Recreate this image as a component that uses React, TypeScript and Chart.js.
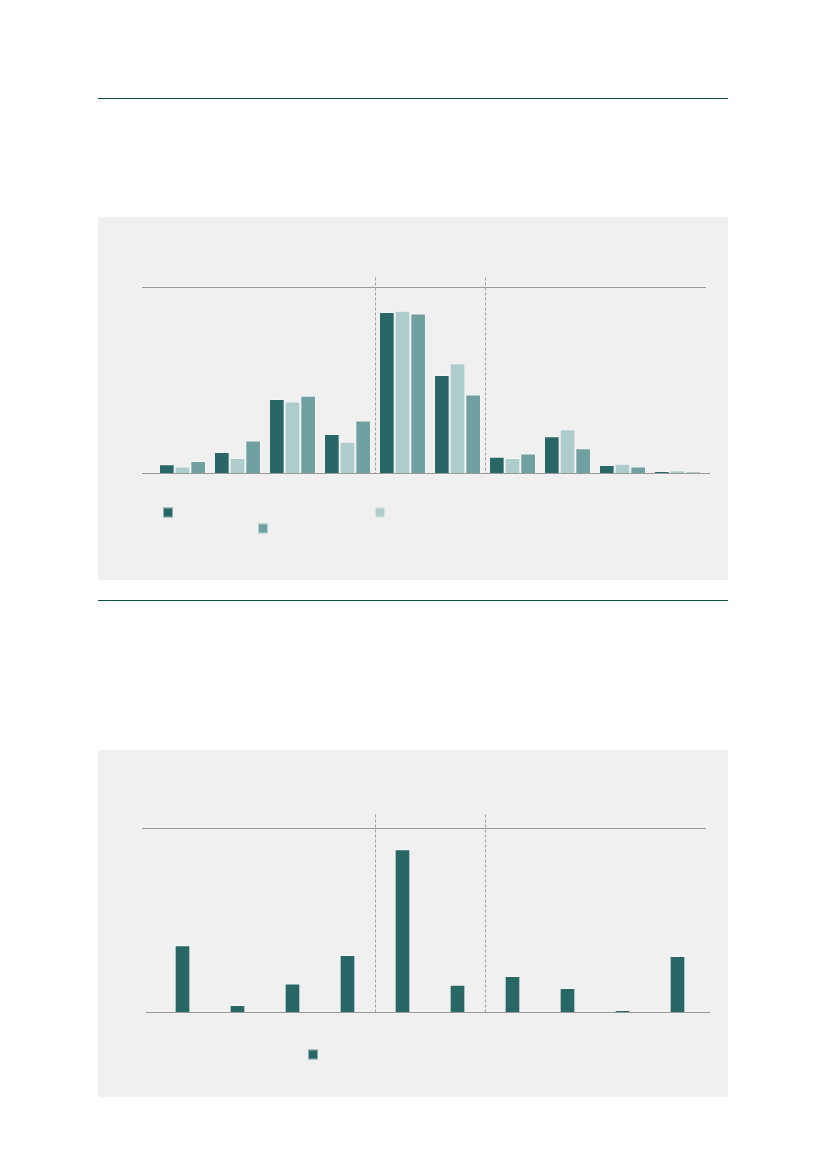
import React, { useEffect, useRef } from "react";
import { Chart, registerables } from "chart.js";

Chart.register(...registerables);

// Ten size bands along the x axis (shares in %).
const categories = ["1", "2", "3", "4", "5", "6", "7", "8", "9", "10"];

// Upper panel: three series
const seriesA = [1.9, 4.5, 15.9, 8.4, 34.6, 21.1, 3.5, 7.9, 1.7, 0.4];
const seriesB = [1.4, 3.2, 15.4, 6.7, 34.9, 23.6, 3.2, 9.4, 2.0, 0.6];
const seriesC = [2.6, 7.0, 16.6, 11.3, 34.3, 16.9, 4.2, 5.3, 1.4, 0.2];

// Lower panel: one series
const seriesD = [14.5, 1.5, 6.2, 12.4, 35.4, 5.9, 7.8, 5.2, 0.4, 12.2];

const yMax = 40;
// dashed separators sit between these category pairs
const separators = [3.5, 5.5];

const DARK = "#286766";
const LIGHT = "#adcccb";
const MID = "#70a09f";
const PANEL_BG = "#f0f0f0";
const RULE = "#0b4f4d";

type LegendBox = { dataset: number; dx: number; dy: number };

function makeFramePlugin(opts: {
  leftExtTop: number;
  rightExtTop: number;
  leftExtBase: number;
  rightExtBase: number;
  dashTop: number;
  legend: LegendBox[];
}) {
  return {
    id: "frame",
    beforeDatasetsDraw(chart: any) {
      const { ctx, chartArea, scales } = chart;
      const x = scales.x;
      const y = scales.y;
      ctx.save();
      // top reference line at the axis maximum
      ctx.strokeStyle = "#999999";
      ctx.lineWidth = 1;
      const yt = Math.round(y.getPixelForValue(yMax)) + 0.5;
      ctx.beginPath();
      ctx.moveTo(chartArea.left - opts.leftExtTop, yt);
      ctx.lineTo(chartArea.right + opts.rightExtTop, yt);
      ctx.stroke();
      // dashed separators
      ctx.strokeStyle = "#a0a0a0";
      ctx.setLineDash([3, 2]);
      const yb = y.getPixelForValue(0);
      separators.forEach((s) => {
        const lo = Math.floor(s);
        const px = (x.getPixelForValue(lo) + x.getPixelForValue(lo + 1)) / 2;
        const xx = Math.round(px) + 0.5;
        ctx.beginPath();
        ctx.moveTo(xx, yt - opts.dashTop);
        ctx.lineTo(xx, yb);
        ctx.stroke();
      });
      ctx.restore();
    },
    afterDatasetsDraw(chart: any) {
      const { ctx, chartArea, scales } = chart;
      const y = scales.y;
      ctx.save();
      ctx.strokeStyle = "#999999";
      ctx.lineWidth = 1.2;
      const yb = Math.round(y.getPixelForValue(0)) + 0.5;
      ctx.beginPath();
      ctx.moveTo(chartArea.left - opts.leftExtBase, yb);
      ctx.lineTo(chartArea.right + opts.rightExtBase, yb);
      ctx.stroke();
      // legend swatches
      opts.legend.forEach((b) => {
        const ds = chart.data.datasets[b.dataset];
        ctx.fillStyle = ds.backgroundColor;
        ctx.fillRect(chartArea.left + b.dx, yb + b.dy, 10, 10);
        ctx.strokeStyle = "rgba(255,255,255,0.5)";
        ctx.lineWidth = 1;
        ctx.strokeRect(chartArea.left + b.dx + 0.5, yb + b.dy + 0.5, 9, 9);
      });
      ctx.restore();
    },
  };
}

function BarPanel(props: {
  top: number;
  height: number;
  datasets: any[];
  padding: { left: number; right: number; top: number; bottom: number };
  categoryPercentage: number;
  barPercentage: number;
  frame: Parameters<typeof makeFramePlugin>[0];
}) {
  const ref = useRef<HTMLCanvasElement | null>(null);
  useEffect(() => {
    if (!ref.current) return;
    const chart = new Chart(ref.current, {
      type: "bar",
      data: {
        labels: categories,
        datasets: props.datasets.map((d) => ({
          ...d,
          categoryPercentage: props.categoryPercentage,
          barPercentage: props.barPercentage,
          borderColor: "rgba(255,255,255,0.35)",
          borderWidth: { top: 1, left: 1, right: 1, bottom: 0 },
          borderSkipped: "bottom",
        })),
      },
      options: {
        animation: false,
        responsive: false,
        maintainAspectRatio: false,
        layout: { padding: props.padding },
        plugins: {
          legend: { display: false },
          tooltip: { enabled: false },
          title: { display: false },
        },
        scales: {
          x: { display: false, offset: true },
          y: { display: false, min: 0, max: yMax },
        },
      },
      plugins: [makeFramePlugin(props.frame)],
    });
    return () => chart.destroy();
  }, []);
  return (
    <div
      style={{
        position: "absolute",
        left: 98,
        top: props.top,
        width: 630,
        height: props.height,
        background: PANEL_BG,
      }}
    >
      <canvas ref={ref} width={630} height={props.height} style={{ display: "block" }} />
    </div>
  );
}

function Rule({ top }: { top: number }) {
  return (
    <div
      style={{
        position: "absolute",
        left: 98,
        top,
        width: 630,
        height: 1.5,
        background: RULE,
      }}
    />
  );
}

export default function App() {
  useEffect(() => {
    document.body.style.margin = "0";
    document.body.style.background = "#ffffff";
  }, []);
  return (
    <div style={{ position: "relative", width: 827, height: 1169, background: "#ffffff" }}>
      <Rule top={97.5} />
      <BarPanel
        top={217}
        height={363}
        datasets={[
          { label: "A", data: seriesA, backgroundColor: DARK },
          { label: "B", data: seriesB, backgroundColor: LIGHT },
          { label: "C", data: seriesC, backgroundColor: MID },
        ]}
        padding={{ left: 57, right: 23, top: 70, bottom: 107 }}
        categoryPercentage={0.855}
        barPercentage={1}
        frame={{
          leftExtTop: 13,
          rightExtTop: 1,
          leftExtBase: 13,
          rightExtBase: 5,
          dashTop: 10,
          legend: [
            { dataset: 0, dx: 8, dy: 34 },
            { dataset: 1, dx: 220, dy: 34 },
            { dataset: 2, dx: 103, dy: 50 },
          ],
        }}
      />
      <Rule top={599.5} />
      <BarPanel
        top={750}
        height={347}
        datasets={[{ label: "D", data: seriesD, backgroundColor: DARK }]}
        padding={{ left: 57, right: 23, top: 78, bottom: 85 }}
        categoryPercentage={1}
        barPercentage={0.285}
        frame={{
          leftExtTop: 13,
          rightExtTop: 1,
          leftExtBase: 9,
          rightExtBase: 5,
          dashTop: 14,
          legend: [{ dataset: 0, dx: 153, dy: 37 }],
        }}
      />
    </div>
  );
}
